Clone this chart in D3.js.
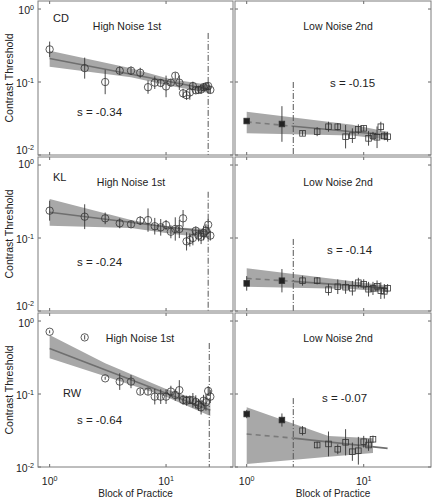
<!DOCTYPE html>
<html><head><meta charset="utf-8">
<script src="https://cdn.jsdelivr.net/npm/d3@7"></script>
<style>body{margin:0;background:#fff}svg{display:block}text{font-family:"Liberation Sans",Arial,sans-serif;fill:#222}</style>
</head><body><svg id="c" width="432" height="501"></svg>
<script>
// ---------------- data ----------------
const subjects = ["CD", "KL", "RW"];
const sessionTitles = ["High Noise 1st", "Low Noise 2nd"];
const slopeLabels = [["s = -0.34", "s = -0.15"], ["s = -0.24", "s = -0.14"], ["s = -0.64", "s = -0.07"]];
const xTickValues = [1, 10];
const yTickValues = [0.01, 0.1, 1];
const xTitle = "Block of Practice";
const yTitle = "Contrast Threshold";

const highBlocks = [1,2,3,4,5,6,7,8,9,10,11,12,13,14,15,16,17,18,19,20,21,22,23,24];
const lowBlocks16 = [1,2,3,4,5,6,7,8,9,10,11,12,13,14,15,16];
const lowBlocks12 = [1,2,3,4,5,6,7,8,9,10,11,12];

const cdHighVals = [0.28,0.155,0.10,0.143,0.143,0.134,0.085,0.098,0.097,0.087,0.098,0.122,0.098,0.070,0.066,0.072,0.088,0.077,0.078,0.079,0.085,0.087,0.088,0.078];
const cdHighErr  = [0.107,0.144,0.167,0.057,0.057,0.068,0.091,0.087,0.05,0.148,0.05,0.045,0.1,0.062,0.064,0.1,0.06,0.05,0.05,0.06,0.05,0.05,0.05,0.05];
const cdLowVals  = [0.0292,0.0266,0.0198,0.0209,0.0244,0.0244,0.0178,0.0184,0.0225,0.0232,0.0169,0.0182,0.0175,0.0244,0.0182,0.0178];
const cdLowErr   = [0.02,0.244,0.034,0.062,0.068,0.05,0.16,0.1,0.068,0.04,0.1,0.057,0.148,0.068,0.057,0.068];

const klHighVals = [0.237,0.196,0.186,0.159,0.154,0.173,0.176,0.145,0.140,0.151,0.122,0.133,0.133,0.186,0.090,0.094,0.100,0.126,0.108,0.104,0.117,0.126,0.152,0.108];
const klHighErr  = [0.137,0.17,0.08,0.068,0.046,0.06,0.16,0.114,0.114,0.068,0.09,0.16,0.125,0.114,0.125,0.09,0.1,0.057,0.08,0.1,0.1,0.09,0.08,0.068];
const klLowVals  = [0.0239,0.026,0.026,0.026,0.0196,0.0215,0.0212,0.0205,0.0244,0.0233,0.0199,0.0204,0.0218,0.019,0.0186,0.0205];
const klLowErr   = [0.1,0.16,0.068,0.05,0.08,0.1,0.09,0.1,0.068,0.068,0.1,0.09,0.08,0.114,0.1,0.057];

const rwHighVals = [0.713,0.597,0.164,0.148,0.148,0.108,0.108,0.092,0.092,0.092,0.108,0.097,0.113,0.083,0.081,0.083,0.082,0.078,0.071,0.066,0.081,0.077,0.110,0.092];
const rwHighErr  = [0.02,0.03,0.02,0.114,0.09,0.04,0.045,0.107,0.1,0.1,0.08,0.08,0.137,0.068,0.068,0.057,0.1,0.09,0.08,0.1,0.08,0.114,0.068,0.09];
const rwLowVals  = [0.0532,0.044,0.0314,0.020,0.0207,0.0175,0.0218,0.0162,0.0167,0.0222,0.020,0.024];
const rwLowErr   = [0.057,0.09,0.064,0.046,0.17,0.068,0.18,0.125,0.19,0.08,0.08,0.05];

// fitted power-law lines [block, threshold]
const cdHighFit = [[1,0.21],[24,0.079]];
const klHighFit = [[1,0.225],[24,0.12]];
const rwHighFit = [[1,0.42],[24,0.06]];
const cdLowFit = [[1,0.0284],[2.5,0.0248],[16,0.0188]];
const klLowFit = [[1,0.028],[2.5,0.0255],[16,0.0206]];
const rwLowFit = [[1,0.0283],[2.5,0.0249],[16,0.018]];

// confidence bands [block, lower, upper]
const cdHighBand = [[1,0.162,0.269],[5,0.116,0.154],[11,0.088,0.109],[24,0.070,0.091]];
const klHighBand = [[1,0.147,0.342],[5,0.137,0.176],[11,0.114,0.14],[24,0.10,0.133]];
const rwHighBand = [[1,0.308,0.643],[3,0.175,0.264],[10,0.092,0.117],[24,0.05,0.073]];
const cdLowBand = [[1,0.0198,0.039],[8,0.0185,0.026],[16,0.0162,0.0209]];
const klLowBand = [[1,0.0215,0.0385],[8,0.02,0.0255],[16,0.018,0.0222]];
const rwLowBand = [[1,0.011,0.066],[5,0.0138,0.0266],[12,0.0155,0.0247]];

// dash-dot markers [block, top threshold]
const highVLines = [[23,0.47],[23,0.43],[23.5,0.5]];
const lowVLines = [[2.5,0.1],[2.5,0.097],[2.5,0.088]];
const filledLowCount = 2;

// ---------------- layout ----------------
const svg = d3.select("#c");
const colX = [38, 235], colW = [195, 196];
const rowY = [1, 157, 313], rowH = 154;
const xDomain = [Math.pow(10,-0.1), Math.pow(10,1.575)];
const yDomain = [0.01, Math.pow(10, 0.11)];

const rowsData = [
  {high:{b:highBlocks,v:cdHighVals,e:cdHighErr,fit:cdHighFit,band:cdHighBand,vl:highVLines[0]},
   low:{b:lowBlocks16,v:cdLowVals,e:cdLowErr,fit:cdLowFit,band:cdLowBand,vl:lowVLines[0]}},
  {high:{b:highBlocks,v:klHighVals,e:klHighErr,fit:klHighFit,band:klHighBand,vl:highVLines[1]},
   low:{b:lowBlocks16,v:klLowVals,e:klLowErr,fit:klLowFit,band:klLowBand,vl:lowVLines[1]}},
  {high:{b:highBlocks,v:rwHighVals,e:rwHighErr,fit:rwHighFit,band:rwHighBand,vl:highVLines[2]},
   low:{b:lowBlocks12,v:rwLowVals,e:rwLowErr,fit:rwLowFit,band:rwLowBand,vl:lowVLines[2]}}
];
// annotation positions (panel relative)
const subjPos = [[15,17],[15,20],[25,80]];
const titlePos = [[[89,25],[103,25]],[[93,25],[103,25]],[[102,25],[103,25]]];
const slopePos = [[[39,111],[95,82]],[[39,105],[92,93]],[[39,107],[87,85]]];
// vertical nudges of y tick labels per row: [1e-2, 1e-1, 1e0]
const yLabelNudge = [[-4.5,1,1],[-4.5,1,-1],[1,1,2]];

const defs = svg.append("defs");

function powLabel(sel, exp, fs) {
  sel.text("10");
  sel.append("tspan").attr("dy", -fs*0.4).attr("font-size", fs*0.68).text(exp);
}

rowsData.forEach((row, r) => {
  [0,1].forEach(c => {
    const d = c === 0 ? row.high : row.low;
    const w = colW[c], h = rowH;
    const x = d3.scaleLog().domain(xDomain).range([0, w]);
    const y = d3.scaleLog().domain(yDomain).range([h, 0]);
    const g = svg.append("g").attr("transform", `translate(${colX[c]},${rowY[r]})`);
    const cid = `clip${r}${c}`;
    defs.append("clipPath").attr("id", cid).append("rect").attr("width", w).attr("height", h);
    const pg = g.append("g").attr("clip-path", `url(#${cid})`);

    // band
    const area = d3.area().x(p => x(p[0])).y0(p => y(p[1])).y1(p => y(p[2]));
    pg.append("path").attr("d", area(d.band)).attr("fill", "#a8a8a8").attr("stroke", "none");

    // fit
    const line = d3.line().x(p => x(p[0])).y(p => y(p[1]));
    if (c === 0) {
      pg.append("path").attr("d", line(d.fit)).attr("fill","none").attr("stroke","#6f6f6f").attr("stroke-width",1.6);
    } else {
      pg.append("path").attr("d", line(d.fit.slice(0,2))).attr("fill","none").attr("stroke","#7a7a7a")
        .attr("stroke-width",1.6).attr("stroke-dasharray","5,4");
      pg.append("path").attr("d", line(d.fit.slice(1))).attr("fill","none").attr("stroke","#6f6f6f").attr("stroke-width",1.6);
    }

    // dash-dot line
    pg.append("line").attr("x1", x(d.vl[0])).attr("x2", x(d.vl[0]))
      .attr("y1", y(d.vl[1])).attr("y2", h)
      .attr("stroke", "#555").attr("stroke-width", 1).attr("stroke-dasharray", "6,2,1,2");

    // error bars
    pg.selectAll("line.err").data(d.b).enter().append("line")
      .attr("x1", (b) => x(b)).attr("x2", (b) => x(b))
      .attr("y1", (b,i) => y(d.v[i] * Math.pow(10, d.e[i])))
      .attr("y2", (b,i) => y(d.v[i] / Math.pow(10, d.e[i])))
      .attr("stroke", "#333").attr("stroke-width", 0.9);

    // markers
    if (c === 0) {
      pg.selectAll("circle.pt").data(d.b).enter().append("circle")
        .attr("cx", b => x(b)).attr("cy", (b,i) => y(d.v[i])).attr("r", 3.7)
        .attr("fill", "none").attr("stroke", "#333").attr("stroke-width", 0.8);
    } else {
      const s = 5.6;
      pg.selectAll("rect.pt").data(d.b).enter().append("rect")
        .attr("x", b => x(b) - s/2).attr("y", (b,i) => y(d.v[i]) - s/2)
        .attr("width", s).attr("height", s)
        .attr("fill", (b,i) => i < filledLowCount ? "#222" : "none")
        .attr("stroke", "#333").attr("stroke-width", 0.8);
    }

    // ticks (inward, all sides)
    const tk = 3;
    xTickValues.forEach(v => {
      g.append("line").attr("x1", x(v)).attr("x2", x(v)).attr("y1", h).attr("y2", h - tk).attr("stroke", "#666");
      g.append("line").attr("x1", x(v)).attr("x2", x(v)).attr("y1", 0).attr("y2", tk).attr("stroke", "#666");
    });
    yTickValues.forEach(v => {
      g.append("line").attr("x1", 0).attr("x2", tk).attr("y1", y(v)).attr("y2", y(v)).attr("stroke", "#666");
      g.append("line").attr("x1", w).attr("x2", w - tk).attr("y1", y(v)).attr("y2", y(v)).attr("stroke", "#666");
    });

    // frame
    g.append("rect").attr("x", 0).attr("y", 0).attr("width", w).attr("height", h)
      .attr("fill", "none").attr("stroke", "#7d7d7d").attr("stroke-width", 1);

    // y tick labels on left column
    if (c === 0) {
      yTickValues.forEach((v, k) => {
        const t = g.append("text").attr("x", -4).attr("y", y(v) + 3.8 + yLabelNudge[r][k])
          .attr("text-anchor", "end").attr("font-size", 10.5);
        powLabel(t, String(Math.round(Math.log10(v))), 10.5);
      });
      g.append("text").attr("transform", `translate(-25.5,${h/2}) rotate(-90)`).attr("text-anchor", "middle")
        .attr("font-size", 10.5).text(yTitle);
    }
    // x tick labels on bottom row
    if (r === 2) {
      xTickValues.forEach(v => {
        const t = g.append("text").attr("x", x(v)).attr("y", h + 18).attr("text-anchor", "middle").attr("font-size", 10.5);
        powLabel(t, String(Math.round(Math.log10(v))), 10.5);
      });
      g.append("text").attr("x", w/2).attr("y", h + 30).attr("text-anchor", "middle").attr("font-size", 10).text(xTitle);
    }

    // annotations
    g.append("text").attr("x", titlePos[r][c][0]).attr("y", titlePos[r][c][1]).attr("dy", "0.35em")
      .attr("text-anchor", "middle").attr("font-size", 10.5).text(sessionTitles[c]);
    g.append("text").attr("x", slopePos[r][c][0]).attr("y", slopePos[r][c][1]).attr("dy", "0.35em")
      .attr("font-size", 11.5).text(slopeLabels[r][c]);
    if (c === 0) {
      g.append("text").attr("x", subjPos[r][0]).attr("y", subjPos[r][1]).attr("dy", "0.35em")
        .attr("font-size", 11).text(subjects[r]);
    }
  });
});
</script></body></html>
